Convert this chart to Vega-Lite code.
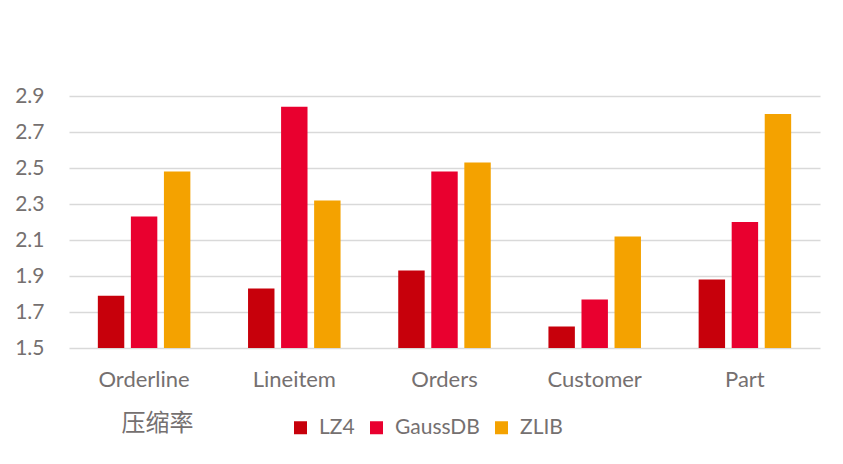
{
  "$schema": "https://vega.github.io/schema/vega-lite/v6.json",
  "width": 751,
  "height": 252,
  "autosize": "none",
  "padding": {"left": 69, "top": 96, "right": 23, "bottom": 116},
  "background": "white",
  "config": {
    "view": {"stroke": null},
    "font": "Lato",
    "axis": {"labelColor": "#757070", "titleColor": "#757070", "labelFont": "Lato", "gridColor": "#D9D9D9", "gridWidth": 1.3}
  },
  "data": {
    "values": [
      {"table": "Orderline", "method": "LZ4", "ratio": 1.79},
      {"table": "Orderline", "method": "GaussDB", "ratio": 2.23},
      {"table": "Orderline", "method": "ZLIB", "ratio": 2.48},
      {"table": "Lineitem", "method": "LZ4", "ratio": 1.83},
      {"table": "Lineitem", "method": "GaussDB", "ratio": 2.84},
      {"table": "Lineitem", "method": "ZLIB", "ratio": 2.32},
      {"table": "Orders", "method": "LZ4", "ratio": 1.93},
      {"table": "Orders", "method": "GaussDB", "ratio": 2.48},
      {"table": "Orders", "method": "ZLIB", "ratio": 2.53},
      {"table": "Customer", "method": "LZ4", "ratio": 1.62},
      {"table": "Customer", "method": "GaussDB", "ratio": 1.77},
      {"table": "Customer", "method": "ZLIB", "ratio": 2.12},
      {"table": "Part", "method": "LZ4", "ratio": 1.88},
      {"table": "Part", "method": "GaussDB", "ratio": 2.2},
      {"table": "Part", "method": "ZLIB", "ratio": 2.8}
    ]
  },
  "mark": {"type": "bar", "clip": true},
  "encoding": {
    "x": {
      "field": "table",
      "type": "nominal",
      "sort": ["Orderline", "Lineitem", "Orders", "Customer", "Part"],
      "scale": {"paddingInner": 0.34, "paddingOuter": 0.17},
      "axis": {
        "title": "压缩率",
        "titleFont": "Noto Sans CJK SC",
        "titleFontSize": 24,
        "titleFontWeight": "normal",
        "titleAnchor": "start",
        "titleAlign": "left",
        "titleBaseline": "top",
        "titleX": 52,
        "titleY": 63,
        "labelAngle": 0,
        "labelFontSize": 22,
        "labelPadding": 21,
        "domain": false,
        "ticks": false,
        "grid": false
      }
    },
    "xOffset": {
      "field": "method",
      "type": "nominal",
      "sort": ["LZ4", "GaussDB", "ZLIB"],
      "scale": {"paddingInner": 0.2, "paddingOuter": 0.1}
    },
    "y": {
      "field": "ratio",
      "type": "quantitative",
      "scale": {"domain": [1.5, 2.9], "zero": false, "nice": false},
      "axis": {
        "title": null,
        "values": [1.5, 1.7, 1.9, 2.1, 2.3, 2.5, 2.7, 2.9],
        "format": ".1f",
        "labelFontSize": 21,
        "labelPadding": 25,
        "domain": false,
        "ticks": false,
        "grid": true
      }
    },
    "color": {
      "field": "method",
      "type": "nominal",
      "scale": {"domain": ["LZ4", "GaussDB", "ZLIB"], "range": ["#C7000B", "#E9002F", "#F4A200"]},
      "legend": {
        "title": null,
        "orient": "none",
        "direction": "horizontal",
        "legendX": 221,
        "legendY": 321,
        "padding": 0,
        "symbolType": "square",
        "symbolSize": 169,
        "symbolStrokeWidth": 0,
        "labelFontSize": 21,
        "labelColor": "#757070",
        "labelOffset": 8,
        "columnPadding": 11
      }
    }
  }
}
